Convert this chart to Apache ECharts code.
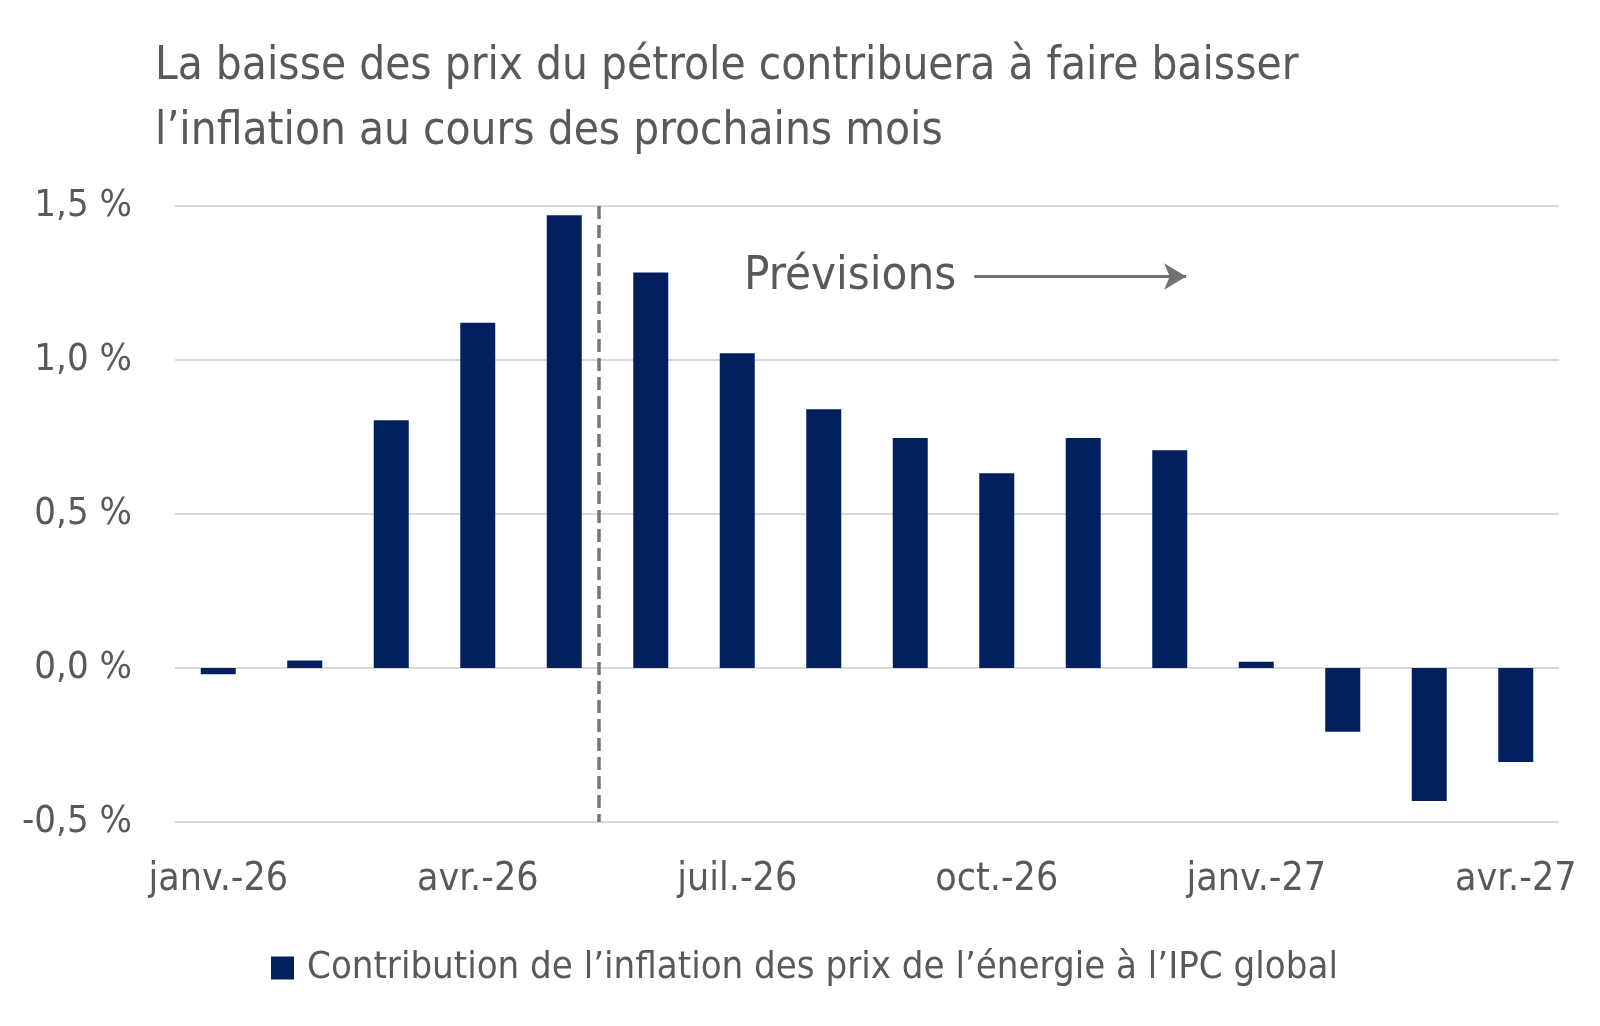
<!DOCTYPE html>
<html>
<head>
<meta charset="utf-8">
<script src="https://cdn.jsdelivr.net/npm/echarts@6/dist/echarts.min.js"></script>
<style>
  html, body { margin: 0; padding: 0; background: #fff; }
  #chart { width: 1600px; height: 1026px; }
</style>
</head>
<body>
<div id="chart"></div>
<script>
const months = ['janv.-26', 'févr.-26', 'mars-26', 'avr.-26', 'mai-26', 'juin-26', 'juil.-26', 'août-26',
  'sept.-26', 'oct.-26', 'nov.-26', 'déc.-26', 'janv.-27', 'févr.-27', 'mars-27', 'avr.-27']
const energyContribution = [-0.02, 0.024, 0.804, 1.121, 1.47, 1.284, 1.022, 0.84,
  0.747, 0.632, 0.747, 0.707, 0.02, -0.207, -0.432, -0.305]
const yTicks = { min: -0.5, max: 1.5, interval: 0.5 }

// annotation positions, in month-index units on a hidden axis
const forecastStart = 4.9
const arrowFrom = 9.24
const arrowTo = 11.69
const arrowLevel = 1.271

const FONT = "'DejaVu Sans Condensed', 'DejaVu Sans', sans-serif"
const TEXT = '#595959'

const chart = echarts.init(document.getElementById('chart'))

chart.setOption({
  animation: false,
  textStyle: { fontFamily: FONT },
  title: {
    text: 'La baisse des prix du pétrole contribuera à faire baisser\nl’inflation au cours des prochains mois',
    left: 150,
    top: 30,
    textStyle: { fontFamily: FONT, fontSize: 45.5, fontWeight: 'normal', color: TEXT, lineHeight: 65 }
  },
  legend: {
    data: ['Contribution de l’inflation des prix de l’énergie à l’IPC global'],
    left: 266,
    top: 944,
    icon: 'rect',
    itemWidth: 23,
    itemHeight: 23,
    itemGap: 13,
    textStyle: { fontFamily: FONT, fontSize: 38, color: TEXT, padding: [0, 0, 0, 8] }
  },
  grid: { left: 175, right: 41, top: 206, bottom: 204 },
  xAxis: [
    {
      type: 'category',
      data: months,
      axisLine: { show: false },
      axisTick: { show: false },
      axisLabel: { interval: 2, margin: 38, fontFamily: FONT, fontSize: 39, color: TEXT }
    },
    { type: 'value', min: 0, max: 16, show: false }
  ],
  yAxis: {
    type: 'value',
    min: yTicks.min,
    max: yTicks.max,
    interval: yTicks.interval,
    axisLine: { show: false },
    axisTick: { show: false },
    axisLabel: {
      margin: 43,
      fontFamily: FONT,
      fontSize: 38,
      color: TEXT,
      formatter: v => v.toFixed(1).replace('.', ',') + ' %'
    },
    splitLine: { lineStyle: { color: '#d9d9d9', width: 2 } }
  },
  series: [
    {
      name: 'Contribution de l’inflation des prix de l’énergie à l’IPC global',
      type: 'bar',
      data: energyContribution,
      barWidth: 35,
      itemStyle: { color: '#03205e' }
    },
    {
      // forecast separator
      type: 'line',
      xAxisIndex: 1,
      data: [],
      markLine: {
        silent: true,
        symbol: ['none', 'none'],
        label: { show: false },
        lineStyle: { color: '#767676', width: 3.5, type: [13, 6] },
        data: [[{ coord: [forecastStart, yTicks.max] }, { coord: [forecastStart, yTicks.min] }]]
      }
    },
    {
      // "Prévisions" arrow
      type: 'line',
      xAxisIndex: 1,
      data: [],
      markLine: {
        silent: true,
        symbol: ['none', 'arrow'],
        symbolSize: [20, 22],
        lineStyle: { color: '#767171', width: 3, type: 'solid' },
        label: {
          show: true,
          position: 'start',
          distance: 18,
          formatter: 'Prévisions',
          fontFamily: FONT,
          fontSize: 47,
          color: TEXT
        },
        data: [[{ coord: [arrowFrom, arrowLevel] }, { coord: [arrowTo, arrowLevel] }]]
      }
    }
  ]
})
</script>
</body>
</html>
